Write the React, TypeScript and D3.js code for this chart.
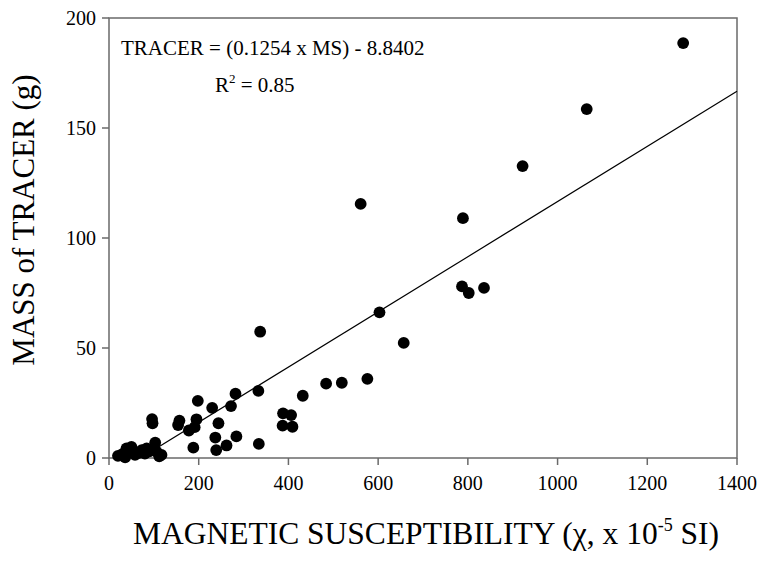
import React from "react";
import * as d3 from "d3";

const msValues: number[] = [
  1280, 1065, 922, 789, 561, 787, 802, 836, 657, 603,
  576, 519, 484, 432, 388, 406, 387, 409, 337, 333,
  282, 198, 230, 272, 244, 195, 178, 191, 157, 154,
  96, 97, 237, 284, 262, 239, 188, 334, 103,
  20, 30, 36, 39, 45, 50, 55, 58, 65, 73, 80, 84, 90, 106, 112, 117,
];
const tracerValues: number[] = [
  188.6, 158.6, 132.7, 109, 115.5, 78, 75, 77.3, 52.3, 66.2,
  36, 34.2, 33.8, 28.3, 20.3, 19.5, 14.7, 14.2, 57.4, 30.5,
  29.2, 26, 22.8, 23.6, 15.8, 17.6, 12.5, 14, 17, 15,
  17.7, 15.8, 9.3, 9.8, 5.7, 3.6, 4.7, 6.4, 7,
  1, 1.8, 0.3, 4.4, 2.5, 5, 3, 1.4, 2.2, 3.6, 2, 4.4, 3, 2.9, 0.8, 1.4,
];
const xTicks: number[] = [0, 200, 400, 600, 800, 1000, 1200, 1400];
const yTicks: number[] = [0, 50, 100, 150, 200];
const slope = 0.1254;
const intercept = -8.8402;
const fitRange: number[] = [-intercept / slope, 1400];

const FONT = "'Liberation Serif', 'Times New Roman', serif";
const AXIS = "#6a6a6a";

export default function App() {
  const left = 109, right = 737, top = 18, bottom = 458;
  const x = d3.scaleLinear().domain([0, 1400]).range([left, right]);
  const y = d3.scaleLinear().domain([0, 200]).range([bottom, top]);
  const line = d3
    .line<number>()
    .x((d) => x(d))
    .y((d) => y(slope * d + intercept));

  return (
    <svg
      width={764}
      height={564}
      style={{ position: "absolute", left: 0, top: 0, background: "#fff" }}
      fontFamily={FONT}
    >
      <rect x={0} y={0} width={764} height={564} fill="#fff" />
      <rect x={left} y={top} width={right - left} height={bottom - top} fill="none" stroke={AXIS} strokeWidth={1.5} />
      {xTicks.map((t) => (
        <g key={"x" + t}>
          <line x1={x(t)} x2={x(t)} y1={bottom} y2={bottom + 7} stroke={AXIS} strokeWidth={1.5} />
          <text x={x(t)} y={bottom + 32} textAnchor="middle" fontSize={20} fill="#000">
            {t}
          </text>
        </g>
      ))}
      {yTicks.map((t) => (
        <g key={"y" + t}>
          <line x1={left - 7} x2={left} y1={y(t)} y2={y(t)} stroke={AXIS} strokeWidth={1.5} />
          <text x={left - 13} y={y(t) + 7} textAnchor="end" fontSize={20} fill="#000">
            {t}
          </text>
        </g>
      ))}
      <path d={line(fitRange) || ""} fill="none" stroke="#000" strokeWidth={1.2} />
      {msValues.map((v, i) => (
        <circle key={i} cx={x(v)} cy={y(tracerValues[i])} r={5.9} fill="#000" />
      ))}
      <text x={121} y={55} fontSize={21} fill="#000">
        TRACER = (0.1254 x MS) - 8.8402
      </text>
      <text x={215} y={92} fontSize={21} fill="#000">
        R<tspan fontSize={13} dy={-9}>2</tspan>
        <tspan dy={9}> = 0.85</tspan>
      </text>
      <text x={426} y={544} textAnchor="middle" fontSize={31.5} fill="#000">
        MAGNETIC SUSCEPTIBILITY (χ, x 10
        <tspan fontSize={18} dy={-13}>-5</tspan>
        <tspan dy={13}> SI)</tspan>
      </text>
      <text
        transform={`translate(34, 220) rotate(-90)`}
        textAnchor="middle"
        fontSize={31}
        fill="#000"
      >
        MASS of TRACER (g)
      </text>
    </svg>
  );
}
